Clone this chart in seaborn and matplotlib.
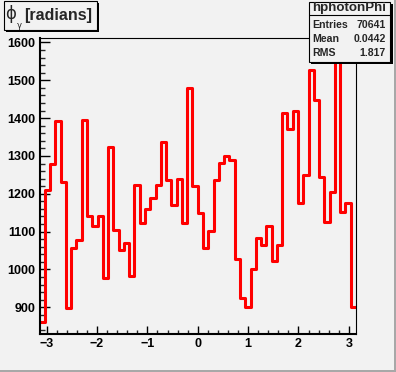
import numpy as np
import pandas as pd
import matplotlib.pyplot as plt
import seaborn as sns
from matplotlib.patches import Rectangle
from matplotlib.lines import Line2D
from matplotlib.ticker import MultipleLocator

# bin contents of hphotonPhi, 60 bins from -pi to pi
counts = [862, 1210, 1280, 1393, 1232, 897, 1056, 1078, 1396, 1142,
          1116, 1141, 977, 1324, 1104, 1051, 1069, 983, 1223, 1124,
          1161, 1188, 1223, 1338, 1236, 1170, 1239, 1124, 1480, 1220,
          1148, 1056, 1102, 1236, 1282, 1300, 1289, 1029, 924, 902,
          1001, 1082, 1065, 1115, 1023, 1066, 1414, 1370, 1418, 1176,
          1250, 1527, 1449, 1245, 1126, 1205, 1590, 1153, 1176, 902]
x_ticks = [-3, -2, -1, 0, 1, 2, 3]
y_ticks = [900, 1000, 1100, 1200, 1300, 1400, 1500, 1600]
stat_names = ['Entries', 'Mean', 'RMS']
stat_values = ['70641', '0.0442', '1.817']

W, H = 396, 372
bg = '#f2f2f2'


def fx(x):
    return x / W


def fy(y):
    return 1 - y / H


sns.set_style('ticks')
plt.rcParams['font.family'] = ['Liberation Sans', 'DejaVu Sans']
plt.rcParams['font.weight'] = 'bold'

fig = plt.figure(figsize=(W / 100, H / 100), dpi=100, facecolor=bg)
ax = fig.add_axes([fx(39.5), fy(334), fx(356) - fx(39.5), fy(37.5) - fy(334)])
ax.set_facecolor(bg)

# bins as a plain list: seaborn compares it with "auto"
edges = list(np.linspace(-np.pi, np.pi, len(counts) + 1))
df = pd.DataFrame({'phi': (np.array(edges[:-1]) + np.array(edges[1:])) / 2,
                   'n': counts})
sns.histplot(data=df, x='phi', weights='n', bins=edges, element='step',
             fill=False, color='red', linewidth=2.2, ax=ax)

ax.set_xlim(-np.pi, np.pi)
ax.set_ylim(829.5, 1613)
ax.set_xlabel('')
ax.set_ylabel('')
ax.set_xticks(x_ticks)
ax.set_yticks(y_ticks)
ax.xaxis.set_minor_locator(MultipleLocator(0.2))
ax.yaxis.set_minor_locator(MultipleLocator(20))
ax.tick_params(axis='x', which='major', direction='in', length=6, width=1,
               labelsize=9, pad=3, colors='black')
ax.tick_params(axis='x', which='minor', direction='in', length=2.6, width=1)
ax.tick_params(axis='y', which='major', direction='in', length=7.2, width=1,
               labelsize=9, pad=3, colors='black')
ax.tick_params(axis='y', which='minor', direction='in', length=3.6, width=1)
for side in ['top', 'right']:
    ax.spines[side].set_visible(True)
    ax.spines[side].set_linewidth(0.8)
for side in ['left', 'bottom']:
    ax.spines[side].set_linewidth(1.5)
for side in ax.spines:
    ax.spines[side].set_color('black')

# canvas bevel
fig.add_artist(Rectangle((0, 0), 1, fy(370), transform=fig.transFigure,
                         facecolor='#a8a8a8', edgecolor='none', zorder=5))
fig.add_artist(Rectangle((fx(393.5), 0), 1, 1, transform=fig.transFigure,
                         facecolor='#a8a8a8', edgecolor='none', zorder=5))

# title box
fig.add_artist(Rectangle((fx(5.5), fy(31.5)), fx(93.5), fy(0) - fy(28.5),
                         transform=fig.transFigure, facecolor='black',
                         edgecolor='none', zorder=6))
fig.add_artist(Rectangle((fx(3.5), fy(29.5)), fx(93.3), fy(0) - fy(28),
                         transform=fig.transFigure, facecolor=bg,
                         edgecolor='black', linewidth=0.8, zorder=7))
fig.text(fx(5), fy(14), '\u03d5', family=['DejaVu Sans'], fontweight='normal',
         fontsize=12, ha='left', va='center', zorder=8)
fig.text(fx(17), fy(25.5), '\u03b3', family=['DejaVu Sans'], fontweight='normal',
         fontsize=6, ha='left', va='center', zorder=8)
fig.text(fx(24.5), fy(15.5), '[radians]', fontsize=11.5, ha='left',
         va='center', zorder=8)

# stats box
fig.add_artist(Rectangle((fx(310.5), fy(63.5)), fx(82), fy(0) - fy(60),
                         transform=fig.transFigure, facecolor='black',
                         edgecolor='none', zorder=6))
fig.add_artist(Rectangle((fx(308.5), fy(61.5)), fx(81.5), fy(0) - fy(60),
                         transform=fig.transFigure, facecolor=bg,
                         edgecolor='black', linewidth=0.8, zorder=7))
fig.add_artist(Line2D([fx(308.5), fx(390)], [fy(15), fy(15)],
                      transform=fig.transFigure, color='black', linewidth=0.8,
                      zorder=8))
fig.text(fx(349.5), fy(8.5), 'hphotonPhi', fontsize=9.6, ha='center',
         va='center', zorder=8)
for i, (name, val) in enumerate(zip(stat_names, stat_values)):
    y = fy(25 + 14.2 * i)
    fig.text(fx(312.5), y, name, fontsize=7.6, ha='left', va='center', zorder=8)
    fig.text(fx(386), y, val, fontsize=7.6, ha='right', va='center', zorder=8)

fig.savefig('out.png', dpi=100, facecolor=bg)
